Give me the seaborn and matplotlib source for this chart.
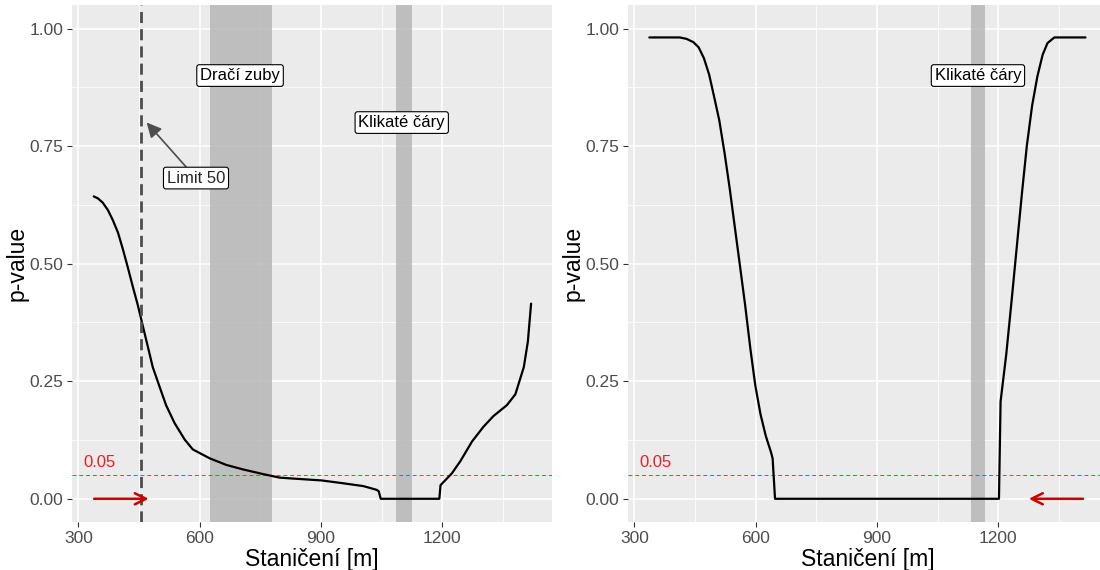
import matplotlib
matplotlib.use("Agg")
import matplotlib.pyplot as plt
import seaborn as sns
import pandas as pd

# ---- data ----
left_x = [338, 348, 360, 373, 385, 398, 410, 422, 435, 447, 459, 472, 484, 501, 517, 538,
          563, 583, 625, 666, 707, 757, 798, 831, 902, 955, 1005, 1038, 1043, 1048, 1193,
          1196, 1224, 1245, 1274, 1302, 1327, 1360, 1381, 1402, 1412, 1420]
left_y = [0.643, 0.639, 0.630, 0.614, 0.593, 0.566, 0.531, 0.493, 0.450, 0.412, 0.369,
          0.323, 0.280, 0.238, 0.199, 0.161, 0.126, 0.105, 0.086, 0.072, 0.0625, 0.0525,
          0.045, 0.043, 0.039, 0.033, 0.027, 0.019, 0.016, 0.0, 0.0, 0.029, 0.054, 0.080,
          0.122, 0.153, 0.176, 0.199, 0.222, 0.280, 0.334, 0.415]
right_x = [337, 412, 429, 446, 459, 472, 485, 497, 510, 523, 536, 548, 561, 574, 587, 599,
           612, 625, 638, 642, 648, 1202, 1206, 1220, 1233, 1246, 1259, 1271, 1284, 1297,
           1310, 1322, 1339, 1416]
right_y = [0.981, 0.981, 0.978, 0.971, 0.960, 0.937, 0.902, 0.856, 0.805, 0.736, 0.659,
           0.581, 0.497, 0.412, 0.319, 0.242, 0.180, 0.134, 0.099, 0.086, 0.0, 0.0, 0.207,
           0.307, 0.419, 0.535, 0.651, 0.751, 0.836, 0.898, 0.944, 0.969, 0.981, 0.981]

left_zones = [("Dračí zuby", 625, 778, 700, 0.90), ("Klikaté čáry", 1085, 1125, 1100, 0.80)]
right_zones = [("Klikaté čáry", 1132, 1168, 1150, 0.90)]
limit_x = 456
limit_label = "Limit 50"
alpha_level = 0.05
x_ticks = [300, 600, 900, 1200]
y_ticks = [0.00, 0.25, 0.50, 0.75, 1.00]
y_tick_labels = ["0.00", "0.25", "0.50", "0.75", "1.00"]
x_title = "Staničení [m]"
y_title = "p-value"

# ---- style ----
sns.set_theme(style="darkgrid")
plt.rcParams["font.family"] = ["Liberation Sans", "DejaVu Sans"]

W, H = 1100, 570
fig = plt.figure(figsize=(11, 5.7), dpi=100)
axL = fig.add_axes([71.7 / W, (H - 522.3) / H, 480 / W, 517.3 / H])
axR = fig.add_axes([627.7 / W, (H - 522.3) / H, 480 / W, 517.3 / H])
XLIM = (283.5, 1471)

BOX = dict(boxstyle="round,pad=0.2,rounding_size=0.15", fc="white", ec="black", lw=0.8)


def style_ax(ax):
    ax.set_facecolor("#EBEBEB")
    for s in ax.spines.values():
        s.set_visible(False)
    ax.set_xlim(*XLIM)
    ax.set_ylim(-0.05, 1.05)
    ax.set_xticks(x_ticks)
    ax.set_xticks([450, 750, 1050, 1350], minor=True)
    ax.set_yticks(y_ticks)
    ax.set_yticklabels(y_tick_labels)
    ax.set_yticks([0.125, 0.375, 0.625, 0.875], minor=True)
    ax.grid(True, which="major", color="white", linewidth=1.1)
    ax.grid(True, which="minor", color="white", linewidth=0.55)
    ax.set_axisbelow(True)
    ax.tick_params(axis="both", which="major", labelsize=12.5, labelcolor="#4D4D4D",
                   color="#333333", length=3.5, width=0.8, pad=2.5,
                   bottom=True, left=True)
    ax.tick_params(axis="both", which="minor", length=0)
    ax.set_xlabel(x_title, fontsize=16.5, color="black", labelpad=2)
    ax.set_ylabel(y_title, fontsize=16.5, color="black", labelpad=1)


def zones(ax, zl):
    for name, x0, x1, tx, ty in zl:
        ax.axvspan(x0, x1, color="#AFAFAF", alpha=0.75, lw=0, zorder=1)
        ax.text(tx, ty, name, ha="center", va="center", fontsize=12, color="black",
                zorder=6, bbox=BOX)


def threshold(ax):
    ax.axhline(alpha_level, color="#E8383D", lw=0.7, ls=(0, (4, 3)), zorder=2)
    ax.text(353, 0.077, f"{alpha_level:.2f}", color="#EE1C25", fontsize=12,
            ha="center", va="center", zorder=6)


# left panel
style_ax(axL)
zones(axL, left_zones)
threshold(axL)
dfL = pd.DataFrame({"x": left_x, "y": left_y})
sns.lineplot(data=dfL, x="x", y="y", ax=axL, color="black", lw=1.6, sort=False,
             estimator=None, zorder=4)
axL.axvline(limit_x, color="#4D4D4D", lw=2.0, ls=(0, (4, 2.2)), zorder=5)
axL.annotate(limit_label, xy=(469, 0.80), xytext=(591, 0.682), ha="center", va="center",
             fontsize=12, zorder=6, bbox=BOX,
             arrowprops=dict(arrowstyle="-|>", color="#4D4D4D", lw=1.2, mutation_scale=22,
                             shrinkA=0, shrinkB=0))
axL.annotate("", xy=(474, 0.0), xytext=(339, 0.0),
             arrowprops=dict(arrowstyle="->", color="#CC0000", lw=1.8, mutation_scale=20,
                             shrinkA=0, shrinkB=0), zorder=6)
style_ax(axL)

# right panel
style_ax(axR)
zones(axR, right_zones)
threshold(axR)
dfR = pd.DataFrame({"x": right_x, "y": right_y})
sns.lineplot(data=dfR, x="x", y="y", ax=axR, color="black", lw=1.6, sort=False,
             estimator=None, zorder=4)
axR.annotate("", xy=(1276, 0.0), xytext=(1410, 0.0),
             arrowprops=dict(arrowstyle="->", color="#CC0000", lw=1.8, mutation_scale=20,
                             shrinkA=0, shrinkB=0), zorder=6)
style_ax(axR)

fig.savefig("out.png", dpi=100, facecolor="white")
